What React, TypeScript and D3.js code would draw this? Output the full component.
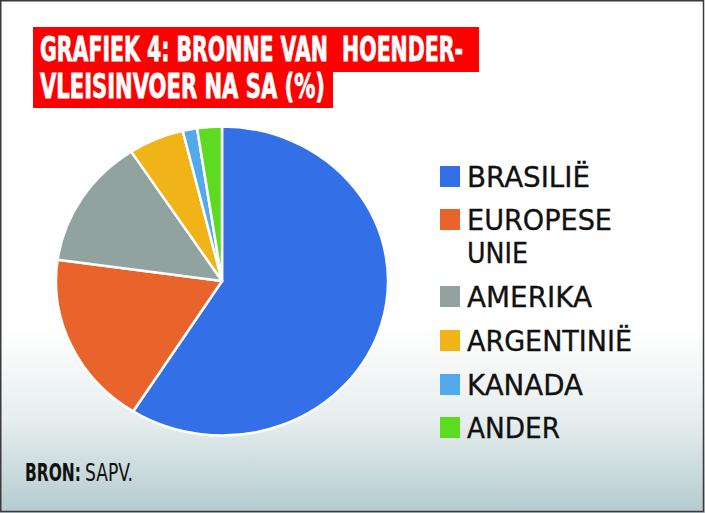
import React, { useLayoutEffect, useRef, useState } from "react";
import * as d3 from "d3";

const categories = ["BRASILIË", "EUROPESE UNIE", "AMERIKA", "ARGENTINIË", "KANADA", "ANDER"];
const legendLines = [["BRASILIË"], ["EUROPESE", "UNIE"], ["AMERIKA"], ["ARGENTINIË"], ["KANADA"], ["ANDER"]];
const values = [59.0, 18.2, 13.6, 5.4, 1.4, 2.4];
const colors = ["#3370e7", "#e8642a", "#92a39f", "#f0b418", "#52a9ec", "#5cdb20"];
const titleLines = ["GRAFIEK 4: BRONNE VAN  HOENDER-", "VLEISINVOER NA SA (%)"];
const sourceBold = "BRON:";
const sourceText = "SAPV.";

const W = 705;
const H = 513;

function FitText(props: {
  x: number;
  y: number;
  width: number;
  children: string;
  [k: string]: any;
}) {
  const { x, y, width, children, ...rest } = props;
  const ref = useRef<SVGTextElement>(null);
  const [sx, setSx] = useState(1);
  useLayoutEffect(() => {
    if (ref.current) {
      const w = ref.current.getComputedTextLength();
      if (w > 0) setSx(width / w);
    }
  }, [width, children]);
  return (
    <text ref={ref} x={0} y={0} transform={`translate(${x},${y}) scale(${sx},1)`} {...rest}>
      {children}
    </text>
  );
}

export default function App() {
  const cx = 222;
  const cy = 281;
  const ry = 154.5;
  const rx = 166;
  const pie = d3.pie<number>().sort(null).value((d) => d);
  const arcs = pie(values);
  const arc = d3.arc<d3.PieArcDatum<number>>().innerRadius(0).outerRadius(ry);

  const legendBaselines = [187, 230, 307, 351, 395, 438];
  const legendWidths = [[123], [145, 61], [125], [165], [116], [93]];

  return (
    <svg
      width={W}
      height={H}
      viewBox={`0 0 ${W} ${H}`}
      style={{ position: "absolute", left: 0, top: 0, display: "block" }}
    >
      <defs>
        <linearGradient id="bg" x1="0" y1="0" x2="0" y2="1">
          <stop offset="0%" stopColor="#ffffff" />
          <stop offset="64%" stopColor="#ffffff" />
          <stop offset="82%" stopColor="#e6eded" />
          <stop offset="100%" stopColor="#b4cbcf" />
        </linearGradient>
      </defs>
      <rect x={0} y={0} width={W} height={H} fill="url(#bg)" />
      <rect x={0.75} y={0.75} width={W - 2.25} height={H - 2.25} fill="none" stroke="#3a3a3a" strokeWidth={1.5} />

      {/* Title */}
      <path d="M33,27 H479 V72 H333 V108 H33 Z" fill="#ff0000" />
      <text
        x={40}
        y={61}
        fontFamily="DejaVu Sans Condensed, DejaVu Sans"
        fontWeight="bold"
        fontSize={33}
        fill="#ffffff"
        stroke="#ffffff"
        strokeWidth={0.8}
        textLength={423}
        lengthAdjust="spacingAndGlyphs"
        style={{ whiteSpace: "pre" }}
      >
        {titleLines[0]}
      </text>
      <text
        x={40}
        y={98}
        fontFamily="DejaVu Sans Condensed, DejaVu Sans"
        fontWeight="bold"
        fontSize={33}
        fill="#ffffff"
        stroke="#ffffff"
        strokeWidth={0.8}
        textLength={285}
        lengthAdjust="spacingAndGlyphs"
      >
        {titleLines[1]}
      </text>

      {/* Pie */}
      <g transform={`translate(${cx},${cy}) scale(${rx / ry},1)`}>
        {arcs.map((a, i) => (
          <path
            key={categories[i]}
            d={arc(a) || ""}
            fill={colors[i]}
            stroke="#ffffff"
            strokeWidth={2.5}
            strokeLinejoin="round"
            vectorEffect="non-scaling-stroke"
          />
        ))}
      </g>

      {/* Legend */}
      {legendLines.map((lines, i) => (
        <g key={categories[i]}>
          <rect x={440} y={legendBaselines[i] - 21} width={20} height={21} fill={colors[i]} />
          {lines.map((ln, j) => (
            <text
              key={ln}
              x={467}
              y={legendBaselines[i] + j * 33}
              fontFamily="DejaVu Sans"
              fontSize={28}
              fill="#111111"
              stroke="#111111"
              strokeWidth={0.35}
              textLength={legendWidths[i][j]}
              lengthAdjust="spacingAndGlyphs"
            >
              {ln}
            </text>
          ))}
        </g>
      ))}

      {/* Source */}
      <FitText
        x={25}
        y={481}
        width={56}
        fontFamily="DejaVu Sans Condensed, DejaVu Sans"
        fontWeight="bold"
        fontSize={25}
        fill="#111111"
      >
        {sourceBold}
      </FitText>
      <FitText
        x={85}
        y={481}
        width={48}
        fontFamily="DejaVu Sans Condensed, DejaVu Sans"
        fontSize={25}
        fill="#111111"
      >
        {sourceText}
      </FitText>
    </svg>
  );
}
